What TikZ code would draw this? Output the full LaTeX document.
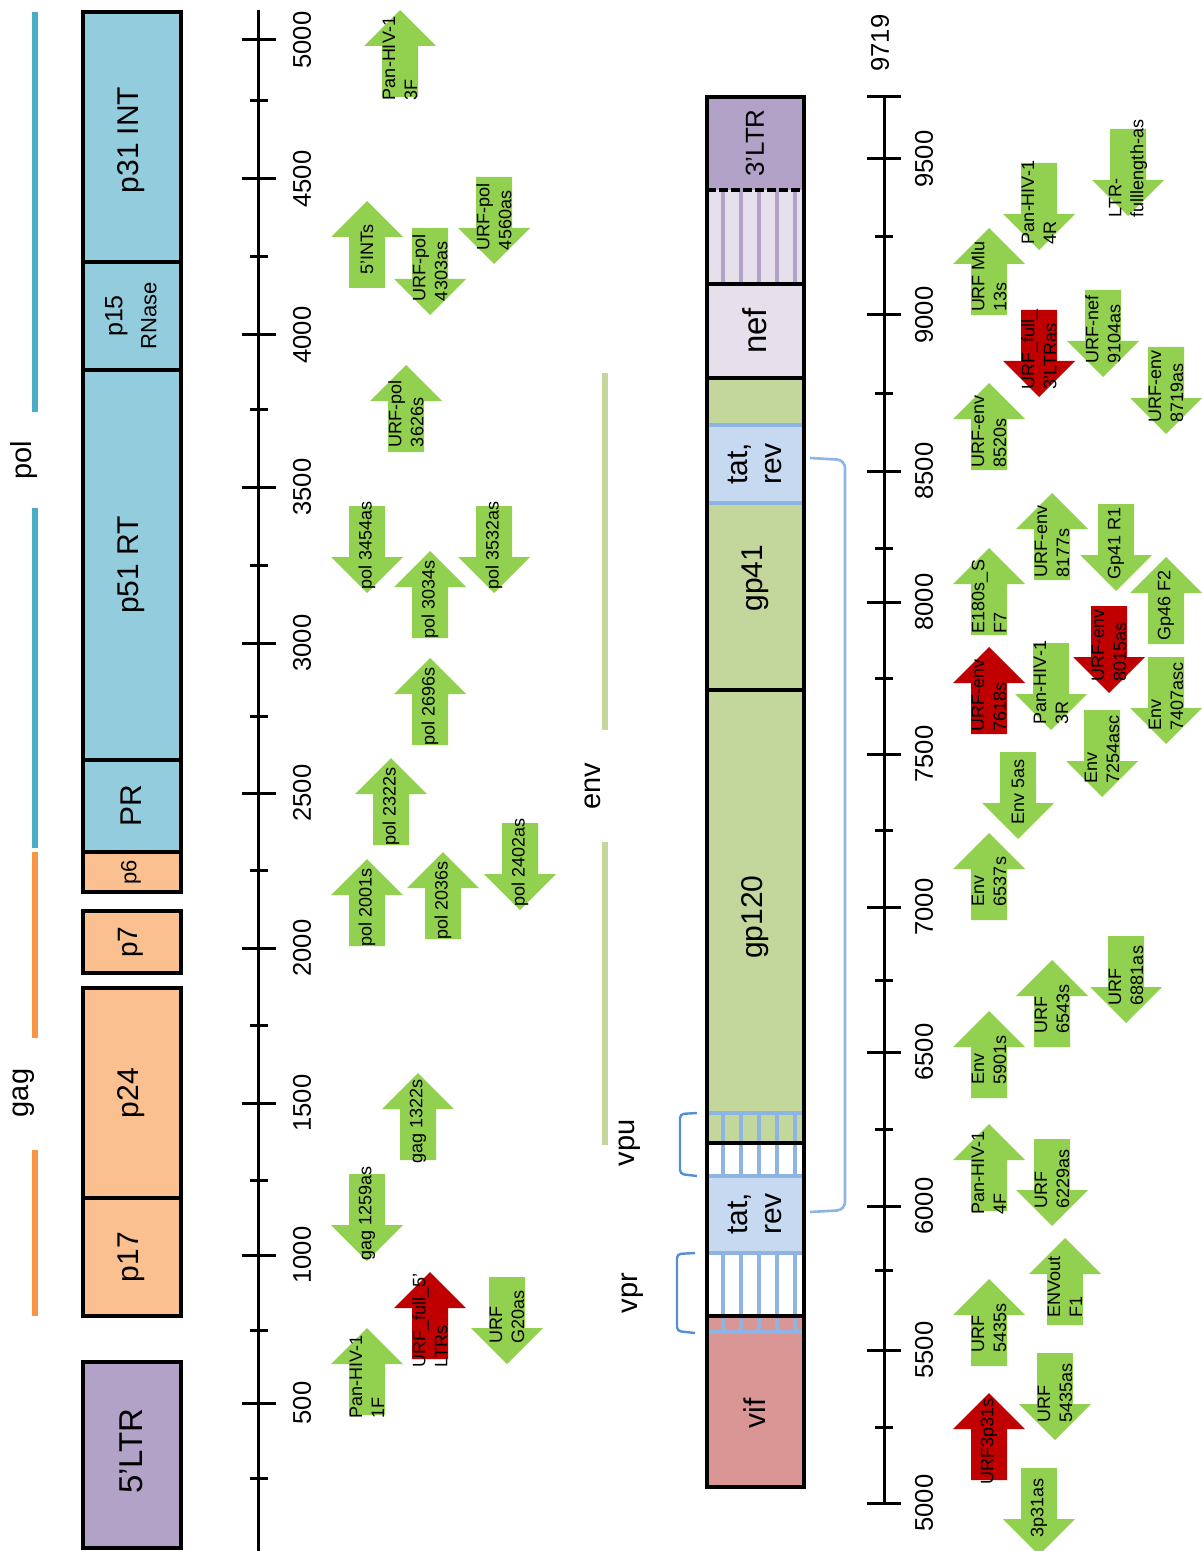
\documentclass[tikz,border=0pt]{standalone}
\usepackage{fontspec}
\setmainfont{Liberation Sans}
\definecolor{polblue}{HTML}{93CDDD}
\definecolor{polline}{HTML}{4BACC6}
\definecolor{gagorange}{HTML}{FAC090}
\definecolor{gagline}{HTML}{F79646}
\definecolor{ltrpurple}{HTML}{B3A2C7}
\definecolor{neflilac}{HTML}{E6E0EC}
\definecolor{envgreen}{HTML}{C3D69B}
\definecolor{tatblue}{HTML}{C6D9F1}
\definecolor{hatchblue}{HTML}{8DB4E2}
\definecolor{brackblue}{HTML}{558ED5}
\definecolor{vifred}{HTML}{D99694}
\definecolor{primgreen}{HTML}{92D050}
\definecolor{primred}{HTML}{C00000}

\tikzset{
  primer/.style={rotate=90, align=left, inner sep=0pt, font=\fontsize{9}{11}\selectfont},
  gene/.style={rotate=90, align=center, inner sep=0pt, font=\fontsize{15}{17}\selectfont},
  axislabel/.style={rotate=90, inner sep=0pt, font=\fontsize{12.8}{14}\selectfont},
  regionlabel/.style={rotate=90, inner sep=0pt, font=\fontsize{14.5}{16}\selectfont},
  box/.style={draw=black, line width=1.8pt},
  region/.style={line width=2.6pt},
  hatch/.style={line width=1.8pt},
}

% primer arrows: name, centre x, top y, colour, text
\newcommand{\uprimer}[5]{%
  \begin{scope}[shift={(#2,#3)}]
    \fill[#4] (0,0) -- (36,36) -- (18,36) -- (18,87) -- (-18,87) -- (-18,36) -- (-36,36) -- cycle;
    \node[primer] (#1) at (0,48.5) {#5};
  \end{scope}}
\newcommand{\dprimer}[5]{%
  \begin{scope}[shift={(#2,#3)}]
    \fill[#4] (-18,0) -- (18,0) -- (18,51) -- (36,51) -- (0,87) -- (-36,51) -- (-18,51) -- cycle;
    \node[primer] (#1) at (0,39.5) {#5};
  \end{scope}}

\begin{document}
\begin{tikzpicture}[x=0.5pt,y=-0.5pt]
        \useasboundingbox (0,0) rectangle (1201,1551);
        % gag / pol / env regions
        \draw[region,polline] (35,12) -- (35,412);
        \draw[region,polline] (35,508) -- (35,848);
        \node[regionlabel] (pol) at (24,460) {pol};
        \draw[region,gagline] (35,852) -- (35,1038);
        \draw[region,gagline] (35,1150) -- (35,1316);
        \node[regionlabel] (gag) at (24,1093) {gag};
        \draw[region,envgreen] (605,373) -- (605,730);
        \draw[region,envgreen] (605,842) -- (605,1145);
        \node[regionlabel] (env) at (593,786) {env};
        % left genome part
        \filldraw[box,fill=polblue] (83,12) rectangle (181,262);
        \filldraw[box,fill=polblue] (83,262) rectangle (181,370);
        \filldraw[box,fill=polblue] (83,370) rectangle (181,760);
        \filldraw[box,fill=polblue] (83,760) rectangle (181,852);
        \filldraw[box,fill=gagorange] (83,852) rectangle (181,892);
        \filldraw[box,fill=gagorange] (83,911) rectangle (181,973);
        \filldraw[box,fill=gagorange] (83,988) rectangle (181,1198);
        \filldraw[box,fill=gagorange] (83,1198) rectangle (181,1316);
        \filldraw[box,fill=ltrpurple] (83,1362) rectangle (181,1548);
        \node[gene] (int) at (131,140) {p31 INT};
        \node[gene] (rnase) at (131,316) {{\fontsize{12.5}{13}\selectfont p15}\\{\fontsize{11}{12}\selectfont RNase}};
        \node[gene] (rt) at (131,565) {p51 RT};
        \node[gene] (pr) at (131,806) {PR};
        \node[gene,font=\fontsize{11}{12}\selectfont] (psix) at (131,872) {p6};
        \node[gene,font=\fontsize{14}{15}\selectfont] (pseven) at (131,942) {p7};
        \node[gene] (ptf) at (131,1093) {p24};
        \node[gene] (pst) at (131,1257) {p17};
        \node[gene,font=\fontsize{16.5}{18}\selectfont] (ltrfive) at (131,1451) {5'LTR};
        % left scale
        \draw[line width=1.5pt] (258,10) -- (258,1551);
        \foreach \y/\v in {40/5000,179/4500,335/4000,487/3500,643/3000,793/2500,948/2000,1103/1500,1255/1000,1403/500}{
          \draw[line width=1.5pt] (242,\y) -- (276,\y);
          \node[axislabel] (a\v) at (302,\y) {\v};
        }
        \foreach \y in {101,257,409,565,716,870,1025,1180,1330,1478}
          \draw[line width=1.5pt] (250,\y) -- (268,\y);
        % right genome part
        \fill[ltrpurple] (707,97) rectangle (804,190);
        \fill[neflilac] (707,190) rectangle (804,378);
        \fill[envgreen] (707,378) rectangle (804,1143);
        \fill[tatblue] (707,425) rectangle (804,503);
        \fill[tatblue] (707,1176) rectangle (804,1253);
        \fill[vifred] (707,1316) rectangle (804,1487);
        \foreach \x in {723,741,759,777,795}{
          \draw[hatch,ltrpurple] (\x,190) -- (\x,284);
          \draw[hatch,hatchblue] (\x,1113) -- (\x,1176);
          \draw[hatch,hatchblue] (\x,1253) -- (\x,1332);
        }
        \foreach \y in {1143,1316}
          \draw[line width=1.8pt] (707,\y) -- (804,\y);
        \foreach \y in {425,503,1113,1176,1253,1332}
          \draw[hatch,hatchblue] (705,\y) -- (806,\y);
        \draw[line width=1.8pt,dash pattern=on 4.5pt off 1.5pt] (707,190) -- (804,190);
        \foreach \y in {284,378,690}
          \draw[line width=1.8pt] (707,\y) -- (804,\y);
        \draw[line width=1.8pt] (707,97) rectangle (804,1487);
        \node[gene,font=\fontsize{13}{14}\selectfont] (ltrthree) at (755,143) {3'LTR};
        \node[gene,font=\fontsize{16.5}{18}\selectfont] (nef) at (755,331) {nef};
        \node[gene] (tatA) at (755,464) {tat,\\rev};
        \node[gene] (gpff) at (755,578) {gp41};
        \node[gene] (gpot) at (755,917) {gp120};
        \node[gene] (tatB) at (755,1214) {tat,\\rev};
        \node[gene] (vif) at (755,1413) {vif};
        % vpu, vpr and tat/rev exons
        \draw[brackblue,line width=1.2pt,rounded corners=2pt] (697,1113) -- (680,1114) -- (680,1174) -- (697,1176);
        \node[regionlabel] (vpu) at (630,1143) {vpu};
        \draw[brackblue,line width=1.2pt,rounded corners=2pt] (695,1253) -- (677,1254) -- (677,1331) -- (695,1333);
        \node[regionlabel] (vpr) at (633,1293) {vpr};
        \coordinate (exonA) at (810,458);
        \coordinate (exonB) at (810,1212);
        \draw[hatchblue,line width=1.3pt,rounded corners=4pt] (exonA) -- (845,460) -- (845,1210) -- (exonB);
        % right scale
        \draw[line width=1.5pt] (884,97) -- (884,1503);
        \foreach \y/\v in {1503/5000,1350/5500,1206/6000,1052/6500,907/7000,754/7500,602/8000,471/8500,315/9000,159/9500}{
          \draw[line width=1.5pt] (867,\y) -- (901,\y);
          \node[axislabel] (b\v) at (924,\y) {\v};
        }
        \draw[line width=1.5pt] (867,97) -- (901,97);
        \node[axislabel] (b9719) at (880,43) {9719};
        \foreach \y in {1427,1270,1129,980,830,678,548,393,237}
          \draw[line width=1.5pt] (875,\y) -- (893,\y);
        % primers, left
        \uprimer{panthreeF}{400}{10}{primgreen}{Pan-HIV-1\\3F}
        \uprimer{intfs}{367}{201}{primgreen}{5'INTs}
        \dprimer{urfpolA}{430}{228}{primgreen}{URF-pol\\4303as}
        \dprimer{urfpolB}{494}{177}{primgreen}{URF-pol\\4560as}
        \uprimer{urfpolC}{406}{365}{primgreen}{URF-pol\\3626s}
        \dprimer{polA}{367}{506}{primgreen}{pol 3454as}
        \uprimer{polB}{430}{551}{primgreen}{pol 3034s}
        \dprimer{polC}{494}{506}{primgreen}{pol 3532as}
        \uprimer{polD}{430}{658}{primgreen}{pol 2696s}
        \uprimer{polE}{391}{758}{primgreen}{pol 2322s}
        \uprimer{polF}{367}{859}{primgreen}{pol 2001s}
        \uprimer{polG}{443}{852}{primgreen}{pol 2036s}
        \dprimer{polH}{520}{823}{primgreen}{pol 2402as}
        \uprimer{gagA}{418}{1073}{primgreen}{gag 1322s}
        \dprimer{gagB}{367}{1174}{primgreen}{gag 1259as}
        \uprimer{urffullA}{430}{1272}{primred}{URF\_full\_5'\\LTRs}
        \dprimer{urfgtw}{507}{1277}{primgreen}{URF\\G20as}
        \uprimer{panoneF}{367}{1328}{primgreen}{Pan-HIV-1\\1F}
        % primers, right
        \dprimer{ltrfull}{1128}{129}{primgreen}{LTR-\\fulllength-as}
        \dprimer{panfourR}{1039}{163}{primgreen}{Pan-HIV-1\\4R}
        \uprimer{urfmlu}{989}{228}{primgreen}{URF Mlu\\13s}
        \dprimer{urffullB}{1039}{310}{primred}{URF\_full\_\\3'LTRas}
        \dprimer{urfnef}{1103}{290}{primgreen}{URF-nef\\9104as}
        \dprimer{urfenvA}{1166}{347}{primgreen}{URF-env\\8719as}
        \uprimer{urfenvB}{989}{383}{primgreen}{URF-env\\8520s}
        \uprimer{urfenvC}{1052}{493}{primgreen}{URF-env\\8177s}
        \dprimer{gpforty}{1116}{504}{primgreen}{Gp41 R1}
        \uprimer{eoneeight}{989}{548}{primgreen}{E180s\_S\\F7}
        \uprimer{gpfortysix}{1166}{557}{primgreen}{Gp46 F2}
        \dprimer{urfenvD}{1109}{606}{primred}{URF-env\\8015as}
        \uprimer{urfenvE}{989}{647}{primred}{URF-env\\7618s}
        \dprimer{panthreeR}{1051}{643}{primgreen}{Pan-HIV-1\\3R}
        \dprimer{envA}{1166}{657}{primgreen}{Env\\7407asc}
        \dprimer{envB}{1102}{710}{primgreen}{Env\\7254asc}
        \dprimer{envC}{1018}{752}{primgreen}{Env 5as}
        \uprimer{envD}{989}{833}{primgreen}{Env\\6537s}
        \dprimer{urfA}{1126}{936}{primgreen}{URF\\6881as}
        \uprimer{urfB}{1052}{960}{primgreen}{URF\\6543s}
        \uprimer{envE}{989}{1011}{primgreen}{Env\\5901s}
        \uprimer{panfourF}{989}{1124}{primgreen}{Pan-HIV-1\\4F}
        \dprimer{urfC}{1052}{1139}{primgreen}{URF\\6229as}
        \uprimer{envout}{1065}{1238}{primgreen}{ENVout\\F1}
        \uprimer{urfD}{989}{1279}{primgreen}{URF\\5435s}
        \dprimer{urfE}{1055}{1353}{primgreen}{URF\\5435as}
        \uprimer{urfthreep}{989}{1393}{primred}{URF3p31s}
        \dprimer{threep}{1039}{1468}{primgreen}{3p31as}
\end{tikzpicture}
\end{document}
